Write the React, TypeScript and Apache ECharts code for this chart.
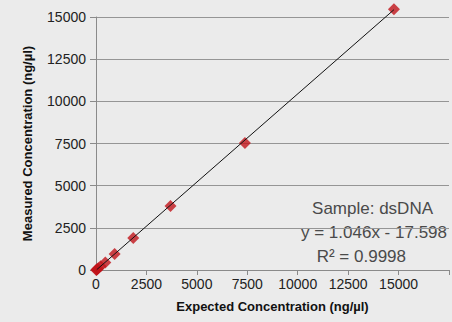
import React, { useEffect, useRef } from "react";
import * as echarts from "echarts";

const expected = [14.4, 28.8, 57.7, 115, 230, 461, 923, 1846, 3692, 7385, 14770];
const measured = [0, 12, 40, 105, 225, 440, 950, 1900, 3800, 7530, 15455];
const trendX = [40, 14770];
const trendY = [24, 15432];
const xTicks = [0, 2500, 5000, 7500, 10000, 12500, 15000];
const yTicks = [0, 2500, 5000, 7500, 10000, 12500, 15000];
const annotations = ["Sample: dsDNA", "y = 1.046x - 17.598", "R² = 0.9998"];

export default function App() {
  const ref = useRef<HTMLDivElement>(null);
  useEffect(() => {
    const chart = echarts.init(ref.current!, null, { renderer: "svg" });
    const font = "'Liberation Sans', Arial, sans-serif";
    chart.setOption({
      animation: false,
      backgroundColor: "#ebebeb",
      textStyle: { fontFamily: font },
      grid: { left: 96, right: 0, top: 17, bottom: 52, containLabel: false },
      xAxis: {
        type: "value",
        min: 0,
        max: 17500,
        interval: 2500,
        name: "Expected Concentration (ng/µl)",
        nameLocation: "middle",
        nameGap: 30,
        nameTextStyle: { fontWeight: "bold", fontSize: 13, color: "#111", fontFamily: font },
        axisLine: { show: true, lineStyle: { color: "#8a8a8a", width: 1 } },
        axisTick: { show: true, length: 5, lineStyle: { color: "#8a8a8a" } },
        axisLabel: {
          color: "#222",
          fontSize: 14,
          margin: 7,
          fontFamily: font,
          formatter: (v: number) => (xTicks.includes(v) ? String(v) : ""),
        },
        splitLine: { show: false },
      },
      yAxis: {
        type: "value",
        min: 0,
        max: 15000,
        interval: 2500,
        name: "Measured Concentration (ng/µl)",
        nameLocation: "middle",
        nameGap: 62,
        nameTextStyle: { fontWeight: "bold", fontSize: 13, color: "#111", fontFamily: font },
        axisLine: { show: true, lineStyle: { color: "#8a8a8a", width: 1 } },
        axisTick: { show: true, length: 6, lineStyle: { color: "#8a8a8a" } },
        axisLabel: {
          color: "#222",
          fontSize: 14,
          margin: 10,
          fontFamily: font,
          formatter: (v: number) => (yTicks.includes(v) ? String(v) : ""),
        },
        splitLine: { show: true, lineStyle: { color: "#959595", width: 1 } },
      },
      series: [
        {
          type: "line",
          data: trendX.map((x, i) => [x, trendY[i]]),
          symbol: "none",
          clip: false,
          lineStyle: { color: "#111", width: 1 },
          z: 3,
        },
        {
          type: "scatter",
          data: expected.map((x, i) => [x, measured[i]]),
          symbol: "diamond",
          symbolSize: 12,
          clip: false,
          itemStyle: { color: "#c0141a" },
          z: 2,
        },
      ],
      graphic: [
        {
          type: "text",
          right: 19,
          top: 200,
          style: { text: annotations[0], fontSize: 17, fill: "#4a4a4a", fontFamily: font },
        },
        {
          type: "text",
          right: 5,
          top: 224,
          style: { text: annotations[1], fontSize: 17, fill: "#4a4a4a", fontFamily: font },
        },
        {
          type: "text",
          right: 46,
          top: 248,
          style: { text: annotations[2], fontSize: 17, fill: "#4a4a4a", fontFamily: font },
        },
      ],
    });
    return () => chart.dispose();
  }, []);
  return (
    <div
      ref={ref}
      style={{ position: "absolute", left: 0, top: 0, width: 452, height: 322 }}
    />
  );
}
